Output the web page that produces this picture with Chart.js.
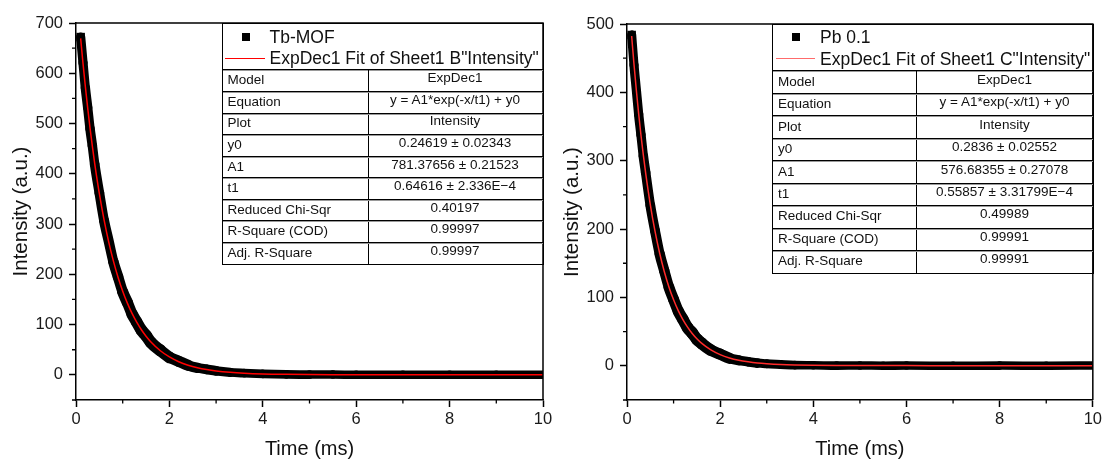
<!DOCTYPE html>
<html>
<head>
<meta charset="utf-8">
<script src="https://cdn.jsdelivr.net/npm/chart.js@4.4.0/dist/chart.umd.min.js"></script>
<style>
html,body{margin:0;padding:0;background:#fff;}
#wrap{position:relative;width:1105px;height:460px;overflow:hidden;font-family:"Liberation Sans",Arial,sans-serif;color:#111;}
canvas{position:absolute;top:0;}
.box{position:absolute;box-sizing:border-box;border:1px solid #000;}
.abs{position:absolute;white-space:nowrap;}
.hline{position:absolute;left:0;right:0;height:1px;background:#000;box-shadow:0 1px 0 #9a9a9a;}
.vline{position:absolute;width:1px;background:#000;}
.cellL{position:absolute;white-space:nowrap;font-size:13.5px;line-height:16px;}
.cellV{position:absolute;white-space:nowrap;font-size:13.5px;line-height:16px;text-align:center;}
.legT{position:absolute;white-space:nowrap;font-size:17.5px;line-height:20px;}
</style>
</head>
<body>
<div id="wrap">
  <canvas id="c1" width="560" height="460" style="left:0px"></canvas>
  <canvas id="c2" width="560" height="460" style="left:545px"></canvas>
</div>
<script>
// ---------------- data ----------------
const timeMs = [0.1, 0.15, 0.2, 0.25, 0.3, 0.35, 0.4, 0.5, 0.6, 0.7, 0.8, 0.9, 1.0, 1.1, 1.2, 1.3, 1.4, 1.5, 1.6, 1.8, 2.0, 2.2, 2.4, 2.6, 2.8, 3.0, 3.3, 3.6, 4.0, 4.5, 5.0, 5.5, 6.0, 7.0, 8.0, 9.0, 10.0];

const tbMofData = [672, 621, 571, 532, 490, 456, 419, 362, 307, 266, 225, 195, 165, 144, 121, 105, 89, 78, 65, 49, 35, 27, 19, 14, 11, 8, 5, 3.5, 2, 1, 0.5, 0.6, 0.2, 0.3, 0.1, 0.4, 0.2];
const tbMofFit  = [669.3, 619.6, 573.6, 531.0, 491.4, 454.9, 420.9, 360.6, 308.9, 264.7, 226.8, 194.3, 166.5, 142.7, 122.2, 104.8, 89.7, 76.9, 65.9, 48.4, 35.6, 26.2, 19.3, 14.2, 10.5, 7.8, 5.0, 3.2, 1.8, 1.0, 0.6, 0.41, 0.32, 0.26, 0.25, 0.25, 0.25];

const pbData = [484, 440, 404, 368, 338, 307, 283, 235, 198, 164, 139, 115, 97, 80, 68, 56, 48, 39, 33, 23, 17, 11, 8, 6, 4, 3, 2, 1, 0.8, 0.3, 0.5, 0.2, 0.4, 0.1, 0.3, 0.2, 0.4];
const pbFit  = [482.5, 441.2, 403.4, 368.9, 337.3, 308.5, 282.1, 235.9, 197.3, 165.0, 138.0, 115.4, 96.5, 80.7, 67.6, 56.6, 47.3, 39.6, 33.2, 23.3, 16.4, 11.5, 8.1, 5.8, 4.1, 3.0, 1.85, 1.2, 0.73, 0.46, 0.35, 0.31, 0.29, 0.28, 0.28, 0.28, 0.28];

const xTicks = [0, 2, 4, 6, 8, 10];
const xMinorTicks = [1, 3, 5, 7, 9];
const tbYTicks = [0, 100, 200, 300, 400, 500, 600, 700];
const tbYMinor = [-50, 50, 150, 250, 350, 450, 550, 650];
const pbYTicks = [0, 100, 200, 300, 400, 500];
const pbYMinor = [-50, 50, 150, 250, 350, 450];

const tableLabels = ['Model', 'Equation', 'Plot', 'y0', 'A1', 't1', 'Reduced Chi-Sqr', 'R-Square (COD)', 'Adj. R-Square'];
const tbTableValues = ['ExpDec1', 'y = A1*exp(-x/t1) + y0', 'Intensity', '0.24619 ± 0.02343', '781.37656 ± 0.21523', '0.64616 ± 2.336E\u22124', '0.40197', '0.99997', '0.99997'];
const pbTableValues = ['ExpDec1', 'y = A1*exp(-x/t1) + y0', 'Intensity', '0.2836 ± 0.02552', '576.68355 ± 0.27078', '0.55857 ± 3.31799E\u22124', '0.49989', '0.99991', '0.99991'];

// ---------------- chart helpers ----------------
const FAMILY = '"Liberation Sans", Arial, sans-serif';

const framePlugin = {
  id: 'frameMinor',
  afterDraw(chart, args, opts) {
    const {ctx, chartArea: a, scales: {x, y}} = chart;
    ctx.save();
    ctx.strokeStyle = '#000';
    ctx.lineWidth = 1.5;
    ctx.beginPath();
    ctx.moveTo(a.left, a.top); ctx.lineTo(a.right, a.top); ctx.lineTo(a.right, a.bottom);
    ctx.stroke();
    ctx.lineWidth = 1.3;
    ctx.beginPath();
    for (const v of opts.xMinor) {
      const px = x.getPixelForValue(v);
      ctx.moveTo(px, a.bottom); ctx.lineTo(px, a.bottom + 3.5);
    }
    for (const v of opts.yMinor) {
      const py = y.getPixelForValue(v);
      ctx.moveTo(a.left, py); ctx.lineTo(a.left - 4, py);
    }
    ctx.stroke();
    ctx.restore();
  }
};

function makeChart(canvasId, c) {
  const side = 8.5;   // marker size of the dense square markers
  return new Chart(document.getElementById(canvasId), {
    type: 'line',
    data: {
      datasets: [
        {
          label: c.dataLabel,
          data: timeMs.map((t, i) => ({x: t, y: c.data[i]})),
          borderColor: '#000000',
          backgroundColor: '#000000',
          pointBackgroundColor: '#000000',
          borderWidth: side,
          borderCapStyle: 'round',
          borderJoinStyle: 'round',
          pointStyle: 'rect',
          pointRadius: ctx => ctx.dataIndex === 0 ? side / 2 / Math.SQRT1_2 : 0,
          pointBorderWidth: 0,
          fill: false,
          cubicInterpolationMode: 'monotone',
          clip: 0,
          order: 2,
          segment: {
            // band swept by square markers: thicker where the curve is oblique
            borderWidth: ctx => {
              const dx = ctx.p1.x - ctx.p0.x, dy = ctx.p1.y - ctx.p0.y;
              const L = Math.hypot(dx, dy) || 1;
              return side * (Math.abs(dx) + Math.abs(dy)) / L;
            }
          }
        },
        {
          label: c.fitLabel,
          data: timeMs.map((t, i) => ({x: t, y: c.fit[i]})),
          borderColor: c.fitColor,
          borderWidth: 1.5,
          pointRadius: 0,
          fill: false,
          cubicInterpolationMode: 'monotone',
          clip: 0,
          order: 1
        }
      ]
    },
    options: {
      responsive: false,
      animation: false,
      events: [],
      layout: {padding: {top: c.padTop, right: c.padRight, left: 0, bottom: 0}},
      plugins: {
        legend: {display: false},
        tooltip: {enabled: false},
        frameMinor: {xMinor: xMinorTicks, yMinor: c.yMinor}
      },
      scales: {
        x: {
          type: 'linear', min: 0, max: 10,
          afterBuildTicks: s => { s.ticks = xTicks.map(v => ({value: v})); },
          afterFit: s => { s.height = 60; },
          ticks: {color: '#1a1a1a', font: {size: 16.5, family: FAMILY}, padding: 3, maxRotation: 0, autoSkip: false},
          grid: {display: true, drawOnChartArea: false, drawTicks: true, tickLength: 7, tickColor: '#000', tickWidth: 1.5},
          border: {display: true, color: '#000', width: 1.5},
          title: {display: true, text: 'Time (ms)', color: '#111', font: {size: 20, family: FAMILY}, padding: {top: 0, bottom: -1.5}}
        },
        y: {
          type: 'linear', min: -50, max: c.yMax,
          afterBuildTicks: s => { s.ticks = c.yTicks.map(v => ({value: v})); },
          afterFit: s => { s.width = c.yWidth; },
          ticks: {color: '#1a1a1a', font: {size: 16.5, family: FAMILY}, padding: 6, autoSkip: false},
          grid: {display: true, drawOnChartArea: false, drawTicks: true, tickLength: 7, tickColor: '#000', tickWidth: 1.5},
          border: {display: true, color: '#000', width: 1.5},
          title: {display: true, text: 'Intensity (a.u.)', color: '#111', font: {size: 20.5, family: FAMILY}, padding: {top: c.yTitlePad, bottom: 0}}
        }
      }
    },
    plugins: [framePlugin]
  });
}

makeChart('c1', {
  dataLabel: 'Tb-MOF', fitLabel: 'ExpDec1 Fit of Sheet1 B"Intensity"',
  data: tbMofData, fit: tbMofFit, fitColor: '#ff0000',
  yMax: 700, yTicks: tbYTicks, yMinor: tbYMinor,
  yWidth: 76, padTop: 23, padRight: 17, yTitlePad: 9
});
makeChart('c2', {
  dataLabel: 'Pb 0.1', fitLabel: 'ExpDec1 Fit of Sheet1 C"Intensity"',
  data: pbData, fit: pbFit, fitColor: '#ff2a2a',
  yMax: 500, yTicks: pbYTicks, yMinor: pbYMinor,
  yWidth: 82, padTop: 24, padRight: 11, yTitlePad: 15
});

// ---------------- legend + fit table boxes ----------------
function buildBox(b) {
  const wrap = document.getElementById('wrap');
  const box = document.createElement('div');
  box.className = 'box';
  Object.assign(box.style, {left: b.left + 'px', top: b.top + 'px', width: b.width + 'px', height: b.height + 'px'});
  wrap.appendChild(box);

  const mk = document.createElement('div');
  mk.className = 'abs';
  Object.assign(mk.style, {left: (b.markX - 4) + 'px', top: (b.row1Y - 4) + 'px', width: '8px', height: '8px', background: '#000'});
  box.appendChild(mk);

  const t1 = document.createElement('div');
  t1.className = 'legT'; t1.textContent = b.dataLabel;
  Object.assign(t1.style, {left: b.textX + 'px', top: (b.row1Y - 10) + 'px'});
  box.appendChild(t1);

  const ln = document.createElement('div');
  ln.className = 'abs';
  Object.assign(ln.style, {left: b.lineX0 + 'px', top: (b.row2Y - 0.5) + 'px', width: (b.lineX1 - b.lineX0) + 'px', height: '1px', background: b.lineColor});
  box.appendChild(ln);

  const t2 = document.createElement('div');
  t2.className = 'legT'; t2.textContent = b.fitLabel;
  Object.assign(t2.style, {left: b.textX + 'px', top: (b.row2Y - 10) + 'px'});
  box.appendChild(t2);

  const rowH = (b.height - 2 - b.legH) / tableLabels.length;
  const hl0 = document.createElement('div');
  hl0.className = 'hline'; hl0.style.top = (b.legH - 1) + 'px';
  box.appendChild(hl0);
  const vl = document.createElement('div');
  vl.className = 'vline';
  Object.assign(vl.style, {left: b.colX + 'px', top: b.legH + 'px', height: (b.height - 2 - b.legH) + 'px'});
  box.appendChild(vl);

  tableLabels.forEach((lab, i) => {
    const y0 = b.legH + i * rowH;
    const mid = y0 + rowH / 2;
    if (i > 0) {
      const hl = document.createElement('div');
      hl.className = 'hline'; hl.style.top = (y0 - 0.5) + 'px';
      box.appendChild(hl);
    }
    const l = document.createElement('div');
    l.className = 'cellL'; l.textContent = lab;
    Object.assign(l.style, {left: '5px', top: (mid - 8 - 0.5) + 'px'});
    box.appendChild(l);
    const v = document.createElement('div');
    v.className = 'cellV'; v.textContent = b.values[i];
    Object.assign(v.style, {left: b.colX + 'px', width: (b.width - 2 - b.colX) + 'px', top: (mid - 8 - 2.5) + 'px'});
    box.appendChild(v);
  });
}

buildBox({
  left: 221.5, top: 23, width: 322, height: 242, legH: 46, colX: 145,
  markX: 23, row1Y: 13, row2Y: 34, textX: 47, lineX0: 2, lineX1: 42, lineColor: '#ff0000',
  dataLabel: 'Tb-MOF', fitLabel: 'ExpDec1 Fit of Sheet1 B"Intensity"', values: tbTableValues
});
buildBox({
  left: 772, top: 24, width: 322, height: 250, legH: 46, colX: 143,
  markX: 23, row1Y: 12, row2Y: 33.5, textX: 47, lineX0: 3, lineX1: 42, lineColor: '#ff6b6b',
  dataLabel: 'Pb 0.1', fitLabel: 'ExpDec1 Fit of Sheet1 C"Intensity"', values: pbTableValues
});
</script>
</body>
</html>
